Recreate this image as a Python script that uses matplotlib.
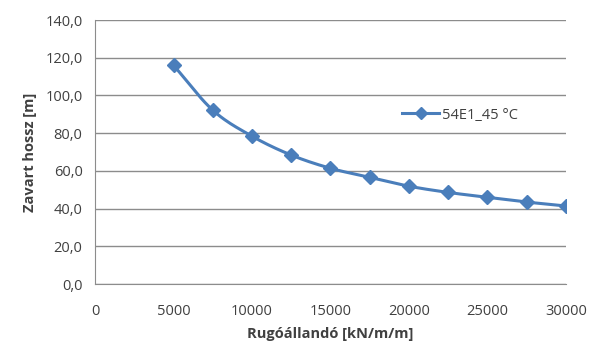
import numpy as np
import matplotlib
matplotlib.use('Agg')
from matplotlib import pyplot as plt
from matplotlib.ticker import FuncFormatter

# data
spring = [5000, 7500, 10000, 12500, 15000, 17500, 20000, 22500, 25000, 27500, 30000]
length = [116.0, 92.2, 78.4, 68.4, 61.4, 56.6, 51.9, 48.6, 46.0, 43.5, 41.4]
series_name = '54E1_45 °C'

blue = '#4A7EBB'
grid_col = '#8C8C8C'
text_col = '#404040'

plt.rcParams['font.family'] = ['Open Sans', 'DejaVu Sans']


def smooth(x, y, n=20):
    # catmull-rom through the points, like excel's smoothed line
    x = np.asarray(x, float)
    y = np.asarray(y, float)
    px = np.concatenate([[2 * x[0] - x[1]], x, [2 * x[-1] - x[-2]]])
    py = np.concatenate([[2 * y[0] - y[1]], y, [2 * y[-1] - y[-2]]])
    xs, ys = [], []
    t = np.linspace(0, 1, n, endpoint=False)
    for i in range(1, len(px) - 2):
        for p, out in ((px, xs), (py, ys)):
            p0, p1, p2, p3 = p[i - 1], p[i], p[i + 1], p[i + 2]
            out.extend(0.5 * ((2 * p1) + (-p0 + p2) * t
                              + (2 * p0 - 5 * p1 + 4 * p2 - p3) * t ** 2
                              + (-p0 + 3 * p1 - 3 * p2 + p3) * t ** 3))
    xs.append(x[-1])
    ys.append(y[-1])
    return np.array(xs), np.array(ys)


fig = plt.figure(figsize=(6.02, 3.52), dpi=100)
ax = fig.add_axes([0.158, 0.193, 0.782, 0.750])

sx, sy = smooth(spring, length)
ax.plot(sx, sy, color=blue, lw=2.2, zorder=3)
ax.plot(spring, length, linestyle='none', marker='D', ms=7, color=blue, zorder=4)
ax.plot([], [], color=blue, lw=2.2, marker='D', ms=6, label=series_name)

ax.set_xlim(0, 30000)
ax.set_ylim(0, 140)
ax.set_xticks(np.arange(0, 30001, 5000))
ax.set_yticks(np.arange(0, 141, 20))
ax.yaxis.set_major_formatter(FuncFormatter(lambda v, p: f'{v:.1f}'.replace('.', ',')))
ax.grid(axis='y', color=grid_col, lw=1)
ax.set_axisbelow(True)

for s in ['top', 'right']:
    ax.spines[s].set_visible(False)
for s in ['left', 'bottom']:
    ax.spines[s].set_color(grid_col)
ax.tick_params(axis='y', length=0, labelsize=10.5, colors=text_col, pad=9)
ax.tick_params(axis='x', length=0, labelsize=10.5, colors=text_col, pad=14)

ax.set_xlabel('Rugóállandó [kN/m/m]', fontsize=10.5, fontweight='bold', color=text_col, labelpad=6)
ax.set_ylabel('Zavart hossz [m]', fontsize=10.5, fontweight='bold', color=text_col, labelpad=6)

ax.legend(loc='center left', bbox_to_anchor=(0.625, 0.64), frameon=False,
          fontsize=10.5, handlelength=2.5, handletextpad=0.2, labelcolor=text_col)

fig.savefig('out.png', dpi=100)
